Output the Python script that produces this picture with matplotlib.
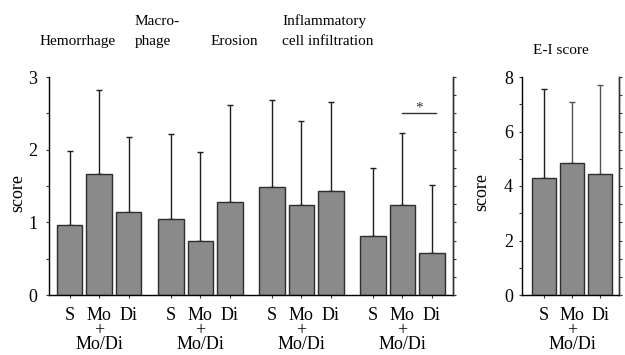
import numpy as np
import matplotlib
matplotlib.use("Agg")
import matplotlib.pyplot as plt
from matplotlib.ticker import MultipleLocator, FixedLocator

plt.rcParams['font.family'] = ['Liberation Serif', 'DejaVu Serif']

# ---------------- data ----------------
groups = ["Hemorrhage", "Macrophage", "Erosion", "Inflammatory cell infiltration"]
treatments = ["S", "Mo\n+\nMo/Di", "Di"]
means = [[0.97, 1.67, 1.14],
         [1.05, 0.75, 1.28],
         [1.48, 1.24, 1.43],
         [0.81, 1.24, 0.58]]
sds = [[1.01, 1.15, 1.03],
       [1.16, 1.22, 1.33],
       [1.20, 1.15, 1.23],
       [0.94, 0.99, 0.93]]
ei_means = [4.29, 4.83, 4.43]
ei_sds = [3.28, 2.26, 3.26]
sig_y = 2.51

W, H = 625, 355
fig = plt.figure(figsize=(W / 100, H / 100), dpi=100)

def fr(x0, y0, x1, y1):
    return [x0 / W, 1 - y1 / H, (x1 - x0) / W, (y1 - y0) / H]

face = '#8a8a8a'
edge = '#2e2e2e'
spc = '#333333'
fs_tick = 13
fs_title = 11
lsp = 0.8

def style(ax, ymax, right_n):
    ax.spines['top'].set_visible(False)
    for s in ['left', 'right', 'bottom']:
        ax.spines[s].set_color(spc)
        ax.spines[s].set_linewidth(1.0)
    ax.set_ylim(0, ymax)
    ax.tick_params(axis='x', direction='out', length=2, width=0.8, color=spc,
                   labelsize=fs_tick, pad=7)
    ax2 = ax.twinx()
    ax2.set_ylim(0, ymax)
    ax2.spines['top'].set_visible(False)
    ax2.spines['right'].set_color(spc)
    ax2.spines['right'].set_linewidth(1.0)
    ax2.yaxis.set_major_locator(FixedLocator(np.linspace(0, ymax, right_n + 1)))
    ax2.set_yticklabels([])
    ax2.tick_params(axis='y', direction='out', length=2.5, width=0.8, color=spc)
    return ax2

# ---------------- left panel ----------------
ax = fig.add_axes(fr(49, 77, 453, 295))
gsp = 3.424
bw = 0.864
centers = []
for g in range(len(groups)):
    xs = g * gsp + np.arange(3)
    centers.extend(xs)
    ax.errorbar(xs, means[g], yerr=[np.zeros(3), sds[g]], fmt='none',
                ecolor='#1e1e1e', elinewidth=1.0, capsize=2, capthick=1.0, zorder=1)
    ax.bar(xs, means[g], width=bw, color=face, edgecolor=edge, linewidth=1.0, zorder=2)
ax.set_xlim(-0.703, 12.99)
ax.set_xticks(centers)
ax.set_xticklabels(treatments * len(groups))
style(ax, 3, 12)
ax.set_yticks([0, 1, 2, 3])
ax.set_yticklabels(['0', '1', '2', '3'])
ax.yaxis.set_minor_locator(MultipleLocator(0.5))
ax.tick_params(axis='y', which='both', direction='out', length=2.5, width=0.8,
               color=spc, labelsize=fs_tick, pad=6)
for lab in ax.get_xticklabels():
    lab.set_linespacing(lsp)

# significance
x1 = 3 * gsp + 1
x2 = 3 * gsp + 2.15
ax.plot([x1, x2], [sig_y, sig_y], color='#333333', lw=1.0, clip_on=False)
ax.text((x1 + x2) / 2, sig_y + 0.02, '*', ha='center', va='baseline',
        fontsize=11, color='#333333')

# ---------------- right panel ----------------
bx = fig.add_axes(fr(522, 77, 619, 295))
xs = np.arange(3)
ecol = ['#1e1e1e', '#555555', '#555555']
for i in range(3):
    bx.errorbar([xs[i]], [ei_means[i]], yerr=[[0], [ei_sds[i]]], fmt='none',
                ecolor=ecol[i], elinewidth=1.0, capsize=2, capthick=1.0, zorder=1)
bx.bar(xs, ei_means, width=0.857, color=face, edgecolor=edge, linewidth=1.0, zorder=2)
bx.set_xlim(-0.786, 2.68)
bx.set_xticks(xs)
bx.set_xticklabels(treatments)
style(bx, 8, 12)
bx.set_yticks([0, 2, 4, 6, 8])
bx.yaxis.set_minor_locator(MultipleLocator(1))
bx.tick_params(axis='y', which='both', direction='out', length=2.5, width=0.8,
               color=spc, labelsize=fs_tick, pad=4)
for lab in bx.get_xticklabels():
    lab.set_linespacing(lsp)

# ---------------- texts ----------------
def ftext(px, py, s, **kw):
    fig.text(px / W, 1 - py / H, s, **kw)

ftext(40, 45, "Hemorrhage", fontsize=fs_title, ha='left', va='baseline')
ftext(135, 25, "Macro-", fontsize=fs_title, ha='left', va='baseline')
ftext(135, 45, "phage", fontsize=fs_title, ha='left', va='baseline')
ftext(211, 45, "Erosion", fontsize=fs_title, ha='left', va='baseline')
ftext(282, 25, "Inflammatory", fontsize=fs_title, ha='left', va='baseline')
ftext(282, 45, "cell infiltration", fontsize=fs_title, ha='left', va='baseline')
ftext(533, 54, "E-I score", fontsize=fs_title, ha='left', va='baseline')

ftext(17.5, 193, "score", fontsize=fs_tick, rotation=90, ha='center', va='center')
ftext(482, 192, "score", fontsize=fs_tick, rotation=90, ha='center', va='center')

fig.savefig("out.png", dpi=100)
